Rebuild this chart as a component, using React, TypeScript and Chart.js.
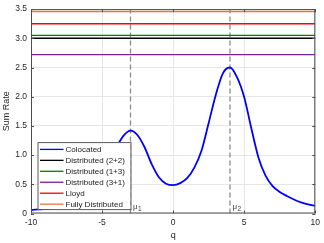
import React, { useEffect, useRef } from "react";
import { Chart, registerables } from "chart.js";

Chart.register(...registerables);

// ---- data ----
const qValues = [-10, -9.5, -9, -8.5, -8, -7.5, -7, -6.5, -6, -5.5, -5, -4.5, -4, -3.5, -3, -2.5, -2, -1.5, -1, -0.5, 0, 0.5, 1, 1.5, 2, 2.5, 3, 3.5, 4, 4.5, 5, 5.5, 6, 6.5, 7, 7.5, 8, 8.5, 9, 9.5, 10];
const colocatedRate = [0.06, 0.07, 0.08, 0.095, 0.11, 0.13, 0.16, 0.2, 0.27, 0.38, 0.54, 0.82, 1.12, 1.33, 1.42, 1.34, 1.13, 0.84, 0.62, 0.51, 0.485, 0.52, 0.61, 0.79, 1.08, 1.55, 2.03, 2.4, 2.5, 2.33, 1.99, 1.46, 0.96, 0.65, 0.47, 0.37, 0.3, 0.24, 0.19, 0.155, 0.13];
const seriesNames = ["Colocated", "Distributed (2+2)", "Distributed (1+3)", "Distributed (3+1)", "Lloyd", "Fully Distributed"];
const seriesColors = ["#0000ff", "#000000", "#008000", "#7e1e9c", "#ff0000", "#e8773a"];
const constantRates = [3.0, 3.05, 2.72, 3.25, 3.46];
const qRange = [-10, 10];
const muValues = [-3, 4];
const muLabels = ["1", "2"];
const xTicks = [-10, -5, 0, 5, 10];

const FONT = "'Liberation Sans', Arial, Helvetica, sans-serif";

const decorPlugin = {
  id: "decor",
  afterDatasetsDraw(chart: any) {
    const { ctx, chartArea: a, scales } = chart;
    const xs = scales.x;
    ctx.save();
    ctx.fillStyle = "#404040";
    muValues.forEach((m, i) => {
      const px = xs.getPixelForValue(m);
      ctx.font = `8px ${FONT}`;
      ctx.textBaseline = "alphabetic";
      ctx.textAlign = "left";
      ctx.fillText("\u03bc", px + 2.5, a.bottom - 5);
      ctx.font = `6.5px ${FONT}`;
      ctx.fillText(muLabels[i], px + 7.5, a.bottom - 2.5);
    });
    ctx.restore();
  },
  afterDraw(chart: any) {
    const { ctx, chartArea: a, scales } = chart;
    const xs = scales.x;
    const ys = scales.y;
    ctx.save();
    ctx.strokeStyle = "#4d4d4d";
    ctx.lineWidth = 1;
    ctx.strokeRect(a.left + 0.5, a.top + 0.5, a.right - a.left - 1, a.bottom - a.top - 1);
    ctx.beginPath();
    xTicks.forEach((t) => {
      const px = Math.round(xs.getPixelForValue(t)) + 0.5;
      ctx.moveTo(px, a.bottom);
      ctx.lineTo(px, a.bottom - 3);
      ctx.moveTo(px, a.top);
      ctx.lineTo(px, a.top + 3);
    });
    ys.ticks.forEach((t: any) => {
      const py = Math.round(ys.getPixelForValue(t.value)) + 0.5;
      ctx.moveTo(a.left, py);
      ctx.lineTo(a.left + 3, py);
      ctx.moveTo(a.right, py);
      ctx.lineTo(a.right - 3, py);
    });
    ctx.stroke();

    // legend
    const lx = a.left + 6.5;
    const ly = a.top + 133;
    const lw = 93;
    const lh = 67;
    ctx.fillStyle = "#ffffff";
    ctx.fillRect(lx, ly, lw, lh);
    ctx.strokeStyle = "#5a5a5a";
    ctx.lineWidth = 1;
    ctx.strokeRect(lx + 0.5, ly + 0.5, lw, lh);
    ctx.font = `8px ${FONT}`;
    ctx.textBaseline = "middle";
    ctx.textAlign = "left";
    seriesNames.forEach((name, i) => {
      const cy = ly + 7.3 + i * 10.95;
      ctx.strokeStyle = seriesColors[i];
      ctx.lineWidth = 1.3;
      ctx.beginPath();
      ctx.moveTo(lx + 2.5, cy);
      ctx.lineTo(lx + 26, cy);
      ctx.stroke();
      ctx.fillStyle = "#1a1a1a";
      ctx.fillText(name, lx + 28, cy + 0.5);
    });
    ctx.restore();
  },
};

export default function App() {
  const ref = useRef<HTMLCanvasElement | null>(null);
  useEffect(() => {
    document.body.style.margin = "0";
    const canvas = ref.current!;
    const datasets: any[] = [];
    datasets.push({
      label: seriesNames[0],
      data: qValues.map((q, i) => ({ x: q, y: colocatedRate[i] })),
      borderColor: seriesColors[0],
      borderWidth: 1.8,
      pointRadius: 0,
      cubicInterpolationMode: "monotone",
      order: 1,
    });
    constantRates.forEach((v, i) => {
      datasets.push({
        label: seriesNames[i + 1],
        data: qRange.map((q) => ({ x: q, y: v })),
        borderColor: seriesColors[i + 1],
        borderWidth: 1.4,
        pointRadius: 0,
        order: 2,
      });
    });
    muValues.forEach((m) => {
      datasets.push({
        label: "mu",
        data: [
          { x: m, y: 0 },
          { x: m, y: 3.5 },
        ],
        borderColor: "#8a8a8a",
        borderWidth: 1.3,
        borderDash: [5, 3],
        pointRadius: 0,
        order: 3,
      });
    });
    const chart = new Chart(canvas, {
      type: "line",
      data: { datasets },
      options: {
        animation: false,
        responsive: false,
        maintainAspectRatio: false,
        layout: { padding: { top: 7, right: 6, left: 0, bottom: 0 } },
        plugins: { legend: { display: false }, tooltip: { enabled: false } },
        scales: {
          x: {
            type: "linear",
            min: -10,
            max: 10,
            afterFit: (s: any) => {
              s.height = 29.5;
            },
            afterBuildTicks: (s: any) => {
              s.ticks = xTicks.map((v) => ({ value: v }));
            },
            ticks: {
              font: { family: FONT, size: 8.5 },
              color: "#262626",
              padding: 4,
              maxRotation: 0,
            },
            grid: { color: "#e6e6e6", drawTicks: false },
            border: { display: false },
            title: {
              display: true,
              text: "q",
              font: { family: FONT, size: 9 },
              color: "#262626",
              padding: { top: 0, bottom: 2 },
            },
          },
          y: {
            min: 0,
            max: 3.5,
            afterFit: (s: any) => {
              s.width = 31;
            },
            ticks: {
              stepSize: 0.5,
              font: { family: FONT, size: 8.5 },
              color: "#262626",
              padding: 4,
            },
            grid: { color: "#e6e6e6", drawTicks: false },
            border: { display: false },
            title: {
              display: true,
              text: "Sum Rate",
              font: { family: FONT, size: 9 },
              color: "#262626",
              padding: { top: 1, bottom: 0 },
            },
          },
        },
      },
      plugins: [decorPlugin],
    });
    return () => chart.destroy();
  }, []);
  return (
    <div style={{ position: "fixed", left: 0, top: 0, width: 324, height: 243 }}>
      <canvas ref={ref} width={324} height={243} style={{ width: 324, height: 243 }} />
    </div>
  );
}
